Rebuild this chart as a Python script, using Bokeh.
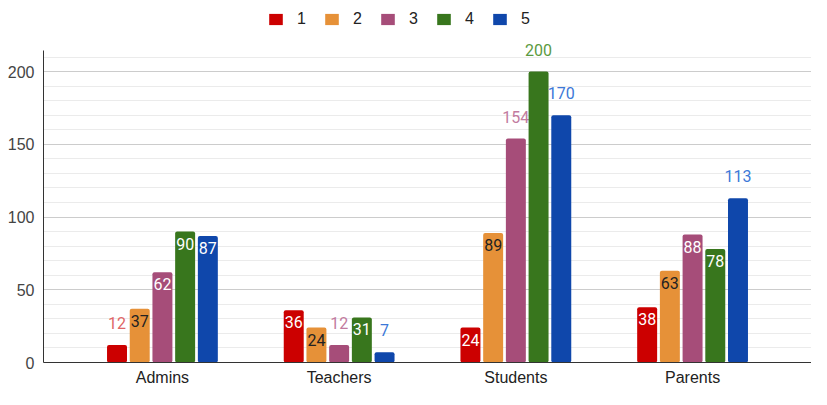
from bokeh.plotting import figure
from bokeh.models import (Range1d, FixedTicker, Legend, LegendItem, ColumnDataSource)
from bokeh.core.properties import value
from bokeh.embed import file_html
from bokeh.resources import INLINE

categories = ["Admins", "Teachers", "Students", "Parents"]
series_names = ["1", "2", "3", "4", "5"]
s1 = [12, 36, 24, 38]
s2 = [37, 24, 89, 63]
s3 = [62, 12, 154, 88]
s4 = [90, 31, 200, 78]
s5 = [87, 7, 170, 113]
y_ticks = [0, 50, 100, 150, 200]
y_minor = [10, 20, 30, 40, 60, 70, 80, 90, 110, 120, 130, 140, 160, 170, 180, 190, 210]
y_axis_top = 214.4

series = [s1, s2, s3, s4, s5]
colors = ["#cc0000", "#e69138", "#a64d79", "#38761d", "#0f47ab"]
inside_text = ["#ffffff", "#222222", "#ffffff", "#ffffff", "#ffffff"]
outside_text = ["#e06666", "#e69138", "#c27ba0", "#5b9a3f", "#3c78d8"]

p = figure(width=811, height=389, output_backend="svg", toolbar_location=None,
           x_range=Range1d(-0.673, 3.673), y_range=Range1d(0, 242),
           min_border_left=43, min_border_right=0, min_border_top=10, min_border_bottom=27)
p.outline_line_color = None
p.xgrid.visible = False
p.ygrid.grid_line_color = "#cccccc"
p.ygrid.minor_grid_line_color = "#ebebeb"

p.yaxis.ticker = FixedTicker(ticks=y_ticks, minor_ticks=y_minor)
p.yaxis.bounds = (0, y_axis_top)
p.xaxis.ticker = FixedTicker(ticks=list(range(len(categories))))
p.xaxis.major_label_overrides = {i: c for i, c in enumerate(categories)}
for ax in (p.xaxis, p.yaxis):
    ax.axis_line_color = "#333333"
    ax.major_tick_line_color = None
    ax.minor_tick_line_color = None
    ax.major_tick_out = 0
    ax.minor_tick_out = 0
    ax.major_label_text_font = "Liberation Sans"
    ax.major_label_text_font_size = "16px"
    ax.major_label_text_color = "#444444"
p.xaxis.major_label_text_color = "#222222"
p.yaxis.major_label_standoff = 9
p.xaxis.major_label_standoff = 6

pitch = 0.1285
bw = 0.113
items = []
for k, (vals, name) in enumerate(zip(series, series_names)):
    off = (k - 2) * pitch
    xs = [i + off for i in range(len(vals))]
    src = ColumnDataSource(dict(x=xs, top=vals))
    r = p.vbar(x="x", top="top", width=bw, source=src, fill_color=colors[k],
               line_color=None, border_radius=2)
    items.append(LegendItem(label=name, renderers=[r]))
    ins = [(x, v) for x, v in zip(xs, vals) if 20 <= v < 100]
    outs = [(x, v) for x, v in zip(xs, vals) if not (20 <= v < 100)]
    if ins:
        p.text(x=[a for a, _ in ins], y=[b for _, b in ins], text=[str(b) for _, b in ins],
               y_offset=12, text_align="center", text_baseline="middle",
               text_font=value("Roboto"), text_font_size="16px", text_color=inside_text[k])
    if outs:
        p.text(x=[a for a, _ in outs], y=[b for _, b in outs], text=[str(b) for _, b in outs],
               y_offset=-22, text_align="center", text_baseline="middle",
               text_font=value("Roboto"), text_font_size="16px", text_color=outside_text[k])

legend = Legend(items=items, orientation="horizontal", location=(224, 334),
                glyph_width=17, glyph_height=14, label_height=18, label_width=9,
                label_standoff=13, spacing=17, padding=0, margin=0,
                border_line_color=None, background_fill_alpha=0,
                label_text_font="Liberation Sans", label_text_font_size="16px",
                label_text_color="#222222")
p.add_layout(legend, "center")

open("out.html", "w").write(file_html(p, INLINE))
